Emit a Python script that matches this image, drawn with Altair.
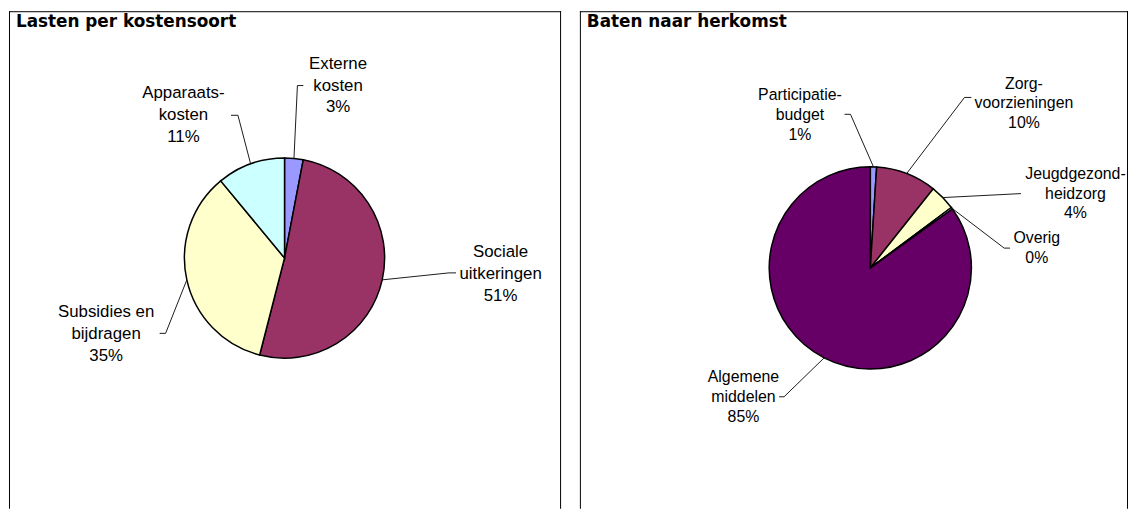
import altair as alt
import numpy as np
import pandas as pd

# ---------------- data ----------------
left_title = "Lasten per kostensoort"
left_categories = ["Externe kosten", "Sociale uitkeringen", "Subsidies en bijdragen", "Apparaatskosten"]
left_values = [3, 51, 35, 11]
left_names = ["Externe\nkosten", "Sociale\nuitkeringen", "Subsidies en\nbijdragen", "Apparaats-\nkosten"]
left_colors = ["#9999FF", "#993366", "#FFFFCC", "#CCFFFF"]

right_title = "Baten naar herkomst"
right_categories = ["Participatiebudget", "Zorgvoorzieningen", "Jeugdgezondheidzorg", "Overig", "Algemene middelen"]
right_values = [1.0, 9.7, 4.1, 0.3, 84.9]
right_names = ["Participatie-\nbudget", "Zorg-\nvoorzieningen", "Jeugdgezond-\nheidzorg", "Overig", "Algemene\nmiddelen"]
right_colors = ["#9999FF", "#993366", "#FFFFCC", "#CCFFFF", "#660066"]

# ---------------- layout (pixels, relative to each pie centre) ----------------
LEFT_W, RIGHT_W, H, GAP = 557, 553, 502, 17
left_center, left_radius = (278, 249), 101
right_center, right_radius = (293, 259), 102

left_label_off = [(54, -191), (218, -1), (-180, 60), (-102, -161)]
left_bend_off = [(13, -174), (166, 15), (-120, 76), (-47, -144)]
left_hook_off = [(19, -174), (173, 15), (-126, 76), (-54, -144)]

right_label_off = [(-71, -169), (155, -181), (207, -90), (168, -25), (-128, 115)]
right_bend_off = [(-20, -155), (95, -172), (152, -75), (135, -20), (-87, 130)]
right_hook_off = [(-26, -155), (102, -172), (152, -75), (141, -20), (-92, 130)]


def one_row():
    return pd.DataFrame({"k": [0]})


def pie_panel(title, cats, vals, names, colors, width, center, radius,
              label_off, bend_off, hook_off, font_size, line_h, key):
    cx, cy = center
    vals_arr = np.array(vals, dtype=float)
    total = vals_arr.sum()
    df = pd.DataFrame({key: cats, "value": vals, "idx": list(range(len(cats)))})

    arc = alt.Chart(df).mark_arc(outerRadius=radius, stroke="black", strokeWidth=1.5).encode(
        theta=alt.Theta("value:Q", stack=True),
        order=alt.Order("idx:Q"),
        color=alt.Color(f"{key}:N", scale=alt.Scale(domain=cats, range=colors), legend=None),
        x=alt.value(cx),
        y=alt.value(cy),
    )

    # leader lines: start on the pie edge at each slice's mid angle
    mids = (np.cumsum(vals_arr) - vals_arr / 2) / total * 2 * np.pi
    rows = []
    for i, c in enumerate(cats):
        sx = cx + radius * np.sin(mids[i])
        sy = cy - radius * np.cos(mids[i])
        pts = [(sx, sy),
               (cx + bend_off[i][0], cy + bend_off[i][1]),
               (cx + hook_off[i][0], cy + hook_off[i][1])]
        for j, (px, py) in enumerate(pts):
            rows.append({"c": c, "o": j, "px": float(px), "py": float(py)})
    lines = alt.Chart(pd.DataFrame(rows)).mark_line(color="#1a1a1a", strokeWidth=1).encode(
        x=alt.X("px:Q", scale=None),
        y=alt.Y("py:Q", scale=None),
        detail="c:N",
        order="o:Q",
    )

    labels = [f"{n}\n{round(v)}%" for n, v in zip(names, vals)]
    lab_df = pd.DataFrame({
        "label": labels,
        "lx": [cx + o[0] for o in label_off],
        "ly": [cy + o[1] for o in label_off],
    })
    text = alt.Chart(lab_df).mark_text(
        font="Liberation Sans", fontSize=font_size, lineHeight=line_h, lineBreak="\n",
        align="center", baseline="alphabetic", color="black",
    ).encode(
        x=alt.X("lx:Q", scale=None),
        y=alt.Y("ly:Q", scale=None),
        text="label:N",
    )

    ttl = alt.Chart(pd.DataFrame({"t": [title]})).mark_text(
        font="DejaVu Sans", fontWeight="bold", fontSize=17, align="left",
        baseline="alphabetic", color="black",
    ).encode(x=alt.value(7), y=alt.value(16), text="t:N")

    frame_top = alt.Chart(one_row()).mark_rule(color="black", strokeWidth=1).encode(
        x=alt.value(0), x2=alt.value(width), y=alt.value(0.5))
    frame_left = alt.Chart(one_row()).mark_rule(color="black", strokeWidth=1).encode(
        x=alt.value(0.5), y=alt.value(0), y2=alt.value(H))
    frame_right = alt.Chart(one_row()).mark_rule(color="black", strokeWidth=1).encode(
        x=alt.value(width - 0.5), y=alt.value(0), y2=alt.value(H))

    return alt.layer(frame_top, frame_left, frame_right, arc, lines, text, ttl).properties(
        width=width, height=H)


left = pie_panel(left_title, left_categories, left_values, left_names, left_colors,
                 LEFT_W, left_center, left_radius, left_label_off, left_bend_off,
                 left_hook_off, 17, 22, "lasten")
right = pie_panel(right_title, right_categories, right_values, right_names, right_colors,
                  RIGHT_W, right_center, right_radius, right_label_off, right_bend_off,
                  right_hook_off, 16, 20, "baten")

chart = alt.hconcat(left, right, spacing=GAP).resolve_scale(
    color="independent", theta="independent"
).configure_view(stroke=None).properties(padding=0, background="white")

chart.save("out.html", embed_options={"renderer": "svg", "actions": False})
